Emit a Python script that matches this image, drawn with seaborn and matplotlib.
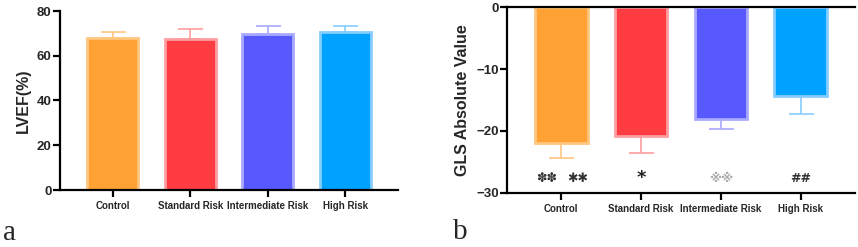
import numpy as np
import pandas as pd
import matplotlib
matplotlib.use("Agg")
import matplotlib.pyplot as plt
import seaborn as sns

# data
groups = ["Control", "Standard Risk", "Intermediate Risk", "High Risk"]
lvef_mean = [67.8, 67.4, 69.5, 70.7]
lvef_sd = [3.0, 4.5, 3.9, 2.8]
gls_mean = [-21.9, -20.8, -18.0, -14.4]
gls_sd = [2.5, 2.8, 1.7, 2.8]
gls_marks = [["✽✽", "✱✱"], ["*"], ["※※"], ["##"]]
mark_colors = ["#333333", "#222222", "#aaaaaa", "#333333"]
mark_sizes = [9, 13, 9, 9]

face_colors = ["#FFA133", "#FF3C41", "#5858FF", "#00A2FF"]
edge_colors = ["#FFC67E", "#FF9DA0", "#A9A9FF", "#86CDFF"]

sns.set_style("ticks")
plt.rcParams["font.family"] = ["Liberation Sans", "DejaVu Sans"]
plt.rcParams["font.weight"] = "bold"

fig = plt.figure(figsize=(8.58, 2.47), dpi=100)
ax1 = fig.add_axes([60 / 858, 57 / 247, 338 / 858, 179 / 247])
ax2 = fig.add_axes([507 / 858, 54.3 / 247, 348 / 858, 185.4 / 247])


def draw_bars(ax, means, sds, negative):
    df = pd.DataFrame({"group": groups, "value": means})
    sns.barplot(data=df, x="group", y="value", hue="group", palette=face_colors,
                saturation=1, width=0.66, errorbar=None, legend=False, ax=ax,
                zorder=2)
    for patch, ec in zip(ax.patches, edge_colors):
        patch.set_edgecolor(ec)
        patch.set_linewidth(2)
    zeros = [0] * len(sds)
    yerr = [sds, zeros] if negative else [zeros, sds]
    for i in range(len(groups)):
        ax.errorbar(i, means[i], yerr=[[yerr[0][i]], [yerr[1][i]]], fmt="none",
                    ecolor=edge_colors[i], elinewidth=1.2, capsize=9, capthick=1.2,
                    zorder=1)
    ax.set_xlabel("")
    ax.set_xlim(-0.68, 3.68)
    for side in ["left", "bottom", "top"]:
        ax.spines[side].set_linewidth(1.6)
        ax.spines[side].set_color("black")
    ax.spines["right"].set_visible(False)
    ax.tick_params(axis="both", width=1.6, length=5, color="black")
    ax.tick_params(axis="y", labelsize=9.5, pad=1)
    ax.tick_params(axis="x", labelsize=7, pad=3)
    for lab in ax.get_xticklabels() + ax.get_yticklabels():
        lab.set_fontweight("bold")


draw_bars(ax1, lvef_mean, lvef_sd, negative=False)
ax1.set_ylim(0, 80)
ax1.set_yticks([0, 20, 40, 60, 80])
ax1.spines["top"].set_visible(False)
ax1.set_ylabel("LVEF(%)", fontsize=11.5, fontweight="bold", labelpad=4)

draw_bars(ax2, gls_mean, gls_sd, negative=True)
ax2.set_ylim(-30, 0)
ax2.set_yticks([-30, -20, -10, 0])
ax2.set_ylabel("GLS Absolute Value", fontsize=11.5, fontweight="bold", labelpad=4)

# significance marks under the bars
offsets = {1: [0.0], 2: [-0.18, 0.2]}
for i, marks in enumerate(gls_marks):
    for dx, m in zip(offsets[len(marks)], marks):
        ax2.text(i + dx, -27.7, m, ha="center", va="center", fontsize=mark_sizes[i],
                 color=mark_colors[i], family=["DejaVu Sans", "Noto Sans CJK SC"],
                 fontweight="bold")

fig.text(3 / 858, 7 / 247, "a", family="Liberation Serif", fontsize=21,
         fontweight="normal", va="baseline")
fig.text(453 / 858, 8 / 247, "b", family="Liberation Serif", fontsize=21,
         fontweight="normal", va="baseline")

fig.savefig("out.png", dpi=100)
